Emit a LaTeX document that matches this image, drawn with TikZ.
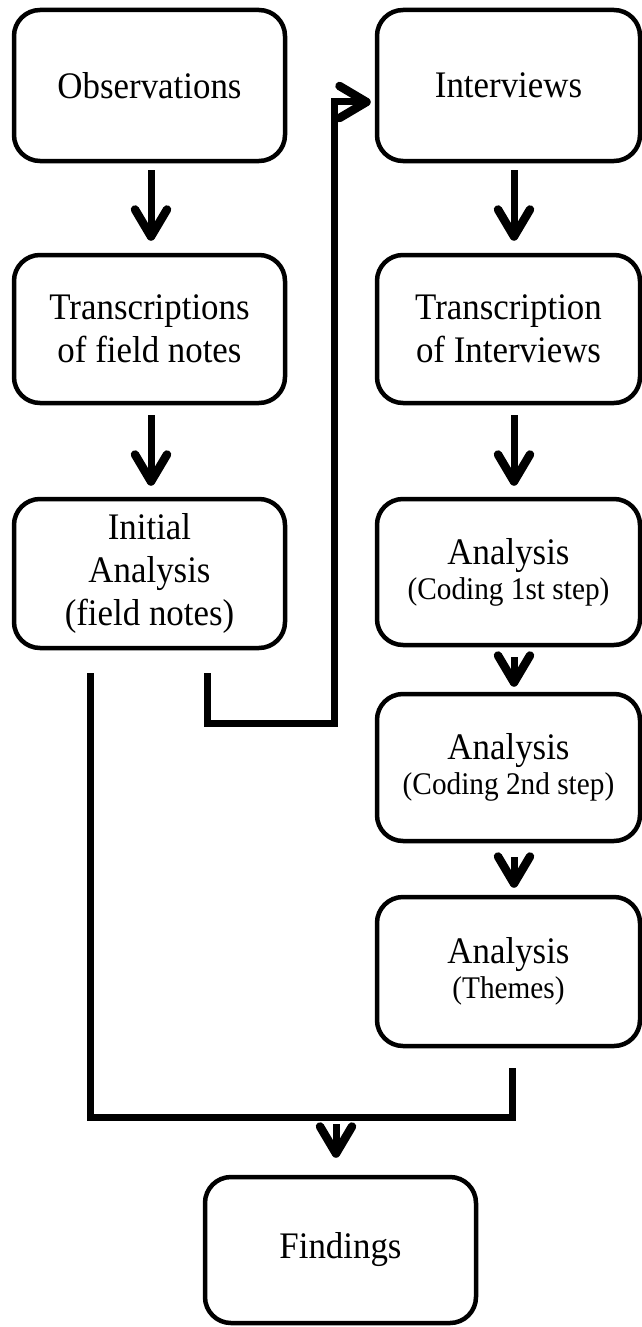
\documentclass[tikz,border=0pt]{standalone}
\usepackage{fontspec}
\setmainfont{Liberation Serif}[FakeStretch=0.93]
\usetikzlibrary{arrows.meta,calc}
\newcommand{\smallfnt}{\fontsize{31.5}{36}\selectfont}
\begin{document}
\begin{tikzpicture}[x=1pt,y=-1pt,
  box/.style={draw, line width=4.5pt, rounded corners=26pt, inner sep=0pt,
    align=center, font=\fontsize{37.5}{43}\selectfont},
  lbox/.style={box, minimum width=271pt},
  rbox/.style={box, minimum width=263pt},
  conn/.style={line width=7pt},
  arr/.style={conn, -{Straight Barb[length=27pt,width=32pt,line width=8.5pt,round]}}]
\useasboundingbox (0,0) rectangle (642,1327);

% left column
\node[lbox, minimum height=151pt] (obs) at (149.5,85.5) {Observations};
\node[lbox, minimum height=148pt] (tfn) at (149.5,329) {Transcriptions\\of field notes};
\node[lbox, minimum height=149pt] (ia)  at (149.5,573.5) {Initial\\Analysis\\(field notes)};

% right column
\node[rbox, minimum height=151pt] (int) at (508.5,85.5) {Interviews};
\node[rbox, minimum height=148pt] (toi) at (508.5,329) {Transcription\\of Interviews};
\node[rbox, minimum height=146pt] (c1)  at (508.5,572) {Analysis\\[-8pt]{\smallfnt(Coding 1st step)}};
\node[rbox, minimum height=147pt] (c2)  at (508.5,767.5) {Analysis\\[-8pt]{\smallfnt(Coding 2nd step)}};
\node[rbox, minimum height=149pt] (th)  at (508.5,971.5) {Analysis\\[-8pt]{\smallfnt(Themes)}};

% findings
\node[lbox, minimum height=146pt] (fin) at (340.5,1250) {Findings};

% vertical arrows
\draw[arr, shorten <=7pt, shorten >=12pt] ([xshift=1.5pt]obs.south) -- ([xshift=1.5pt]tfn.north);
\draw[arr, shorten <=10pt, shorten >=11pt] ([xshift=1.5pt]tfn.south) -- ([xshift=1.5pt]ia.north);
\draw[arr, shorten <=7pt, shorten >=12pt] ([xshift=5.5pt]int.south) -- ([xshift=5.5pt]toi.north);
\draw[arr, shorten <=10pt, shorten >=11pt] ([xshift=5.5pt]toi.south) -- ([xshift=5.5pt]c1.north);
\draw[arr, shorten <=10pt, shorten >=5pt] ([xshift=5.5pt]c1.south) -- ([xshift=5.5pt]c2.north);
\draw[arr, shorten <=14pt, shorten >=7pt] ([xshift=5.5pt]c2.south) -- ([xshift=5.5pt]th.north);

% connector from initial analysis to interviews
\coordinate (a1) at (207,673);
\coordinate (a2) at (334,723);
\draw[arr, shorten >=4pt] (a1) |- (a2) |- ($(int.west)+(0,16.5)$);

% merge to findings
\coordinate (b1) at (90,673);
\coordinate (bm) at (512,1117);
\coordinate (b2) at (512,1068);
\draw[conn] (b1) |- (bm) -- (b2);
\coordinate (f1) at (336,1124);
\draw[arr, shorten >=17pt] (f1) -- (f1 |- fin.north);
\end{tikzpicture}
\end{document}
